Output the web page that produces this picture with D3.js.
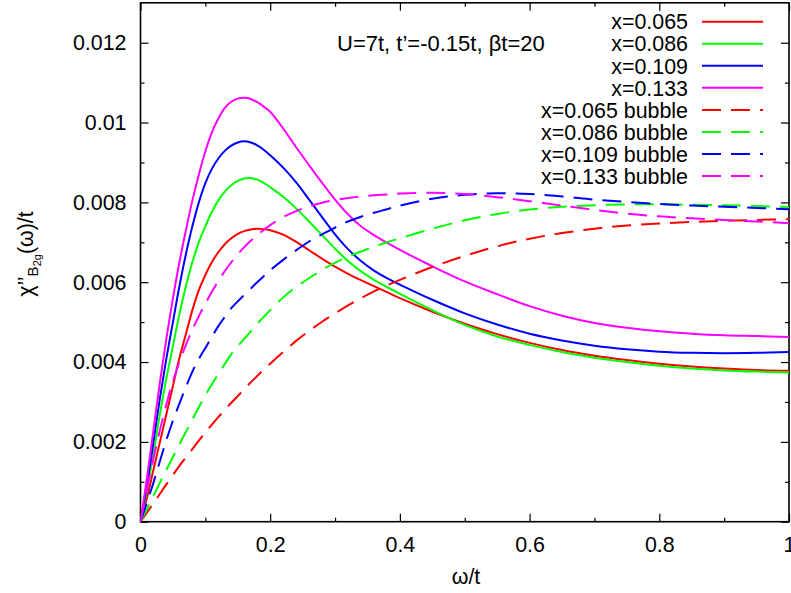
<!DOCTYPE html>
<html>
<head>
<meta charset="utf-8">
<script src="https://cdn.jsdelivr.net/npm/d3@7/dist/d3.min.js"></script>
<style>
  html, body { margin: 0; padding: 0; background: #fff; }
  svg { display: block; }
  text { font-family: "Liberation Sans", Arial, Helvetica, sans-serif; fill: #000; }
</style>
</head>
<body>
<svg id="chart" width="791" height="593"></svg>
<script>
// frequency grid, omega / t
const omega = [0, 0.01, 0.02, 0.03, 0.04, 0.05, 0.06, 0.07, 0.08, 0.09, 0.10,
  0.11, 0.12, 0.13, 0.14, 0.15, 0.16, 0.17, 0.18, 0.19, 0.20,
  0.22, 0.24, 0.26, 0.28, 0.30, 0.32, 0.34, 0.36, 0.38, 0.40,
  0.45, 0.50, 0.55, 0.60, 0.65, 0.70, 0.75, 0.80, 0.85, 0.90, 0.95, 1.00];

// full response, chi''_B2g(omega)/t
const chiX065 = [0, 0.0006, 0.0013, 0.0020, 0.0027, 0.0034, 0.0041, 0.0047, 0.0053, 0.0058, 0.00618,
  0.0065, 0.00675, 0.00695, 0.0071, 0.00721, 0.00728, 0.00732, 0.00734, 0.00733, 0.0073,
  0.00719, 0.00701, 0.0068, 0.00659, 0.00639, 0.00621, 0.00605, 0.0059, 0.00575, 0.0056,
  0.00526, 0.00496, 0.0047, 0.00448, 0.0043, 0.00416, 0.00405, 0.00396, 0.00389, 0.00384, 0.0038, 0.00378];
const chiX086 = [0, 0.0008, 0.0017, 0.0027, 0.0036, 0.0044, 0.0052, 0.0059, 0.0065, 0.0070, 0.0074,
  0.00776, 0.00805, 0.00827, 0.00843, 0.00854, 0.0086, 0.00861, 0.00857, 0.00849, 0.00838,
  0.00814, 0.00785, 0.00752, 0.00718, 0.00684, 0.00653, 0.00627, 0.00606, 0.00588, 0.00571,
  0.0053, 0.00493, 0.00464, 0.00443, 0.00425, 0.00411, 0.004, 0.00391, 0.00384, 0.00379, 0.00376, 0.00374];
const chiX109 = [0, 0.0009, 0.0020, 0.0031, 0.0041, 0.0050, 0.0059, 0.0067, 0.0074, 0.0080, 0.00848,
  0.00884, 0.0091, 0.00929, 0.00942, 0.0095, 0.00953, 0.0095, 0.00943, 0.00932, 0.00918,
  0.00887, 0.0085, 0.00807, 0.00763, 0.0072, 0.00683, 0.00653, 0.00629, 0.0061, 0.00594,
  0.00556, 0.00522, 0.00494, 0.00471, 0.00454, 0.00441, 0.00432, 0.00426, 0.00423, 0.00422, 0.00423, 0.00425];
const chiX133 = [0, 0.0011, 0.0023, 0.0035, 0.0046, 0.0056, 0.0065, 0.0073, 0.00805, 0.0087, 0.00928,
  0.00975, 0.0101, 0.01037, 0.01052, 0.0106, 0.01062, 0.01059, 0.01051, 0.0104, 0.01027,
  0.00985, 0.00938, 0.00893, 0.00849, 0.00807, 0.0077, 0.0074, 0.00718, 0.00699, 0.00681,
  0.0064, 0.00602, 0.0057, 0.0054, 0.00516, 0.00498, 0.00486, 0.00477, 0.00471, 0.00467, 0.00465, 0.00463];

// bubble-only response
const bubX065 = [0, 0.00023, 0.00046, 0.0007, 0.00094, 0.00117, 0.0014, 0.00161, 0.00182, 0.00203, 0.00224,
  0.00243, 0.00262, 0.0028, 0.00298, 0.00315, 0.00332, 0.00349, 0.00365, 0.00381, 0.00396,
  0.00425, 0.00453, 0.00478, 0.00501, 0.00522, 0.00542, 0.0056, 0.00577, 0.00592, 0.00606,
  0.00638, 0.00666, 0.0069, 0.00709, 0.00723, 0.00734, 0.00742, 0.00747, 0.00751, 0.00754, 0.00756, 0.00758];
const bubX086 = [0, 0.00032, 0.00065, 0.00098, 0.0013, 0.00162, 0.00194, 0.00225, 0.00256, 0.00287, 0.00317,
  0.00344, 0.0037, 0.00395, 0.0042, 0.0044, 0.00458, 0.00477, 0.00496, 0.00513, 0.0053,
  0.00562, 0.00588, 0.0061, 0.00631, 0.00649, 0.00664, 0.00677, 0.00689, 0.007, 0.0071,
  0.00734, 0.00755, 0.00771, 0.00782, 0.00789, 0.00793, 0.00795, 0.00795, 0.00794, 0.00793, 0.00791, 0.00788];
const bubX109 = [0, 0.00048, 0.00098, 0.00152, 0.00205, 0.00253, 0.00296, 0.00337, 0.00376, 0.00408, 0.00435,
  0.00463, 0.0049, 0.00513, 0.00535, 0.00552, 0.00568, 0.00584, 0.006, 0.00615, 0.0063,
  0.00656, 0.0068, 0.00702, 0.0072, 0.00737, 0.00752, 0.00764, 0.00774, 0.00783, 0.00792,
  0.00809, 0.00819, 0.00823, 0.00821, 0.00815, 0.00807, 0.00801, 0.00796, 0.00792, 0.00789, 0.00786, 0.00783];
const bubX133 = [0, 0.0008, 0.00158, 0.0023, 0.00295, 0.00352, 0.004, 0.00443, 0.00481, 0.00515, 0.00546,
  0.00576, 0.00603, 0.00628, 0.0065, 0.0067, 0.00688, 0.00704, 0.00718, 0.00731, 0.00743,
  0.00763, 0.00778, 0.0079, 0.00799, 0.00806, 0.00811, 0.00815, 0.00818, 0.0082, 0.00822,
  0.00824, 0.00821, 0.00813, 0.00803, 0.00792, 0.00781, 0.00772, 0.00765, 0.0076, 0.00756, 0.00752, 0.00748];

const seriesNames = ["x=0.065", "x=0.086", "x=0.109", "x=0.133",
  "x=0.065 bubble", "x=0.086 bubble", "x=0.109 bubble", "x=0.133 bubble"];
const seriesValues = [chiX065, chiX086, chiX109, chiX133, bubX065, bubX086, bubX109, bubX133];
const seriesColors = ["#ff0000", "#00ff00", "#0000ff", "#ff00ff",
  "#ff0000", "#00ff00", "#0000ff", "#ff00ff"];
const seriesDashed = [false, false, false, false, true, true, true, true];

const xTicks = [0, 0.2, 0.4, 0.6, 0.8, 1];
const xTickLabels = ["0", "0.2", "0.4", "0.6", "0.8", "1"];
const xMinorTicks = [0.1, 0.3, 0.5, 0.7, 0.9];
const yTicks = [0, 0.002, 0.004, 0.006, 0.008, 0.010, 0.012];
const yTickLabels = ["0", "0.002", "0.004", "0.006", "0.008", "0.01", "0.012"];
const yMinorTicks = [0.001, 0.003, 0.005, 0.007, 0.009, 0.011];

const svg = d3.select("#chart");
const plotL = 140.5, plotR = 789, plotT = 2.8, plotB = 521.7;
const fs = 21.4;

const x = d3.scaleLinear().domain([0, 1]).range([plotL, plotR]);
const y = d3.scaleLinear().domain([0, 0.013]).range([plotB, plotT]);

svg.append("clipPath").attr("id", "plotclip")
  .append("rect").attr("x", plotL).attr("y", plotT)
  .attr("width", plotR - plotL).attr("height", plotB - plotT);

// tick marks on all four sides, pointing inward
function tickMarks(axisFn, values, size, transform) {
  const g = svg.append("g").attr("transform", transform)
    .call(axisFn.tickValues(values).tickSize(size).tickFormat(""));
  g.select(".domain").remove();
  g.selectAll(".tick line").attr("stroke", "#000").attr("stroke-width", 1.2);
}
tickMarks(d3.axisBottom(x), xTicks, -8, `translate(0,${plotB})`);
tickMarks(d3.axisBottom(x), xMinorTicks, -4, `translate(0,${plotB})`);
tickMarks(d3.axisTop(x), xTicks, -8, `translate(0,${plotT})`);
tickMarks(d3.axisTop(x), xMinorTicks, -4, `translate(0,${plotT})`);
tickMarks(d3.axisLeft(y), yTicks, -8, `translate(${plotL},0)`);
tickMarks(d3.axisLeft(y), yMinorTicks, -4, `translate(${plotL},0)`);
tickMarks(d3.axisRight(y), yTicks, -8, `translate(${plotR},0)`);
tickMarks(d3.axisRight(y), yMinorTicks, -4, `translate(${plotR},0)`);

// tick labels
const xLab = svg.append("g").attr("transform", `translate(0,${plotB})`)
  .call(d3.axisBottom(x).tickValues(xTicks).tickSize(0).tickPadding(15)
    .tickFormat((d, i) => xTickLabels[i]));
xLab.select(".domain").remove();
xLab.attr("font-size", fs).attr("font-family", null);

const yLab = svg.append("g").attr("transform", `translate(${plotL},0)`)
  .call(d3.axisLeft(y).tickValues(yTicks).tickSize(0).tickPadding(14)
    .tickFormat((d, i) => yTickLabels[i]));
yLab.select(".domain").remove();
yLab.attr("font-size", fs).attr("font-family", null);

// frame
svg.append("rect").attr("x", plotL).attr("y", plotT)
  .attr("width", plotR - plotL).attr("height", plotB - plotT)
  .attr("fill", "none").attr("stroke", "#000").attr("stroke-width", 1.6);

// curves
const line = d3.line()
  .x(d => x(d[0]))
  .y(d => y(d[1]))
  .curve(d3.curveCatmullRom.alpha(0.5));

const plot = svg.append("g").attr("clip-path", "url(#plotclip)");
seriesValues.forEach((vals, i) => {
  plot.append("path")
    .datum(omega.map((w, k) => [w, vals[k]]))
    .attr("fill", "none")
    .attr("stroke", seriesColors[i])
    .attr("stroke-width", 2)
    .attr("stroke-dasharray", seriesDashed[i] ? "19,10" : null)
    .attr("d", line);
});

// legend
const legX = 688, legY0 = 21.7, legStep = 22.05;
const legend = svg.append("g");
seriesNames.forEach((name, i) => {
  const cy = legY0 + i * legStep;
  legend.append("text").attr("x", legX).attr("y", cy).attr("dy", "0.36em")
    .attr("text-anchor", "end").attr("font-size", fs).text(name);
  legend.append("line").attr("x1", 702).attr("x2", 763).attr("y1", cy).attr("y2", cy)
    .attr("stroke", seriesColors[i]).attr("stroke-width", 2)
    .attr("stroke-dasharray", seriesDashed[i] ? "19,10" : null);
});

// parameter note
svg.append("text").attr("x", 337).attr("y", 51).attr("font-size", 22)
  .text("U=7t, t\u2019=-0.15t, \u03b2t=20");

// axis titles
svg.append("text").attr("x", 466).attr("y", 584).attr("text-anchor", "middle")
  .attr("font-size", fs).text("\u03c9/t");

const yTitle = svg.append("text")
  .attr("transform", "translate(33,254) rotate(-90)")
  .attr("text-anchor", "middle").attr("font-size", fs);
yTitle.append("tspan").text("\u03c7\u2019\u2019");
yTitle.append("tspan").attr("font-size", 15).attr("dy", 5).text("B");
yTitle.append("tspan").attr("font-size", 11).attr("dy", 3).text("2g");
yTitle.append("tspan").attr("dy", -8).text("(\u03c9)/t");
</script>
</body>
</html>
